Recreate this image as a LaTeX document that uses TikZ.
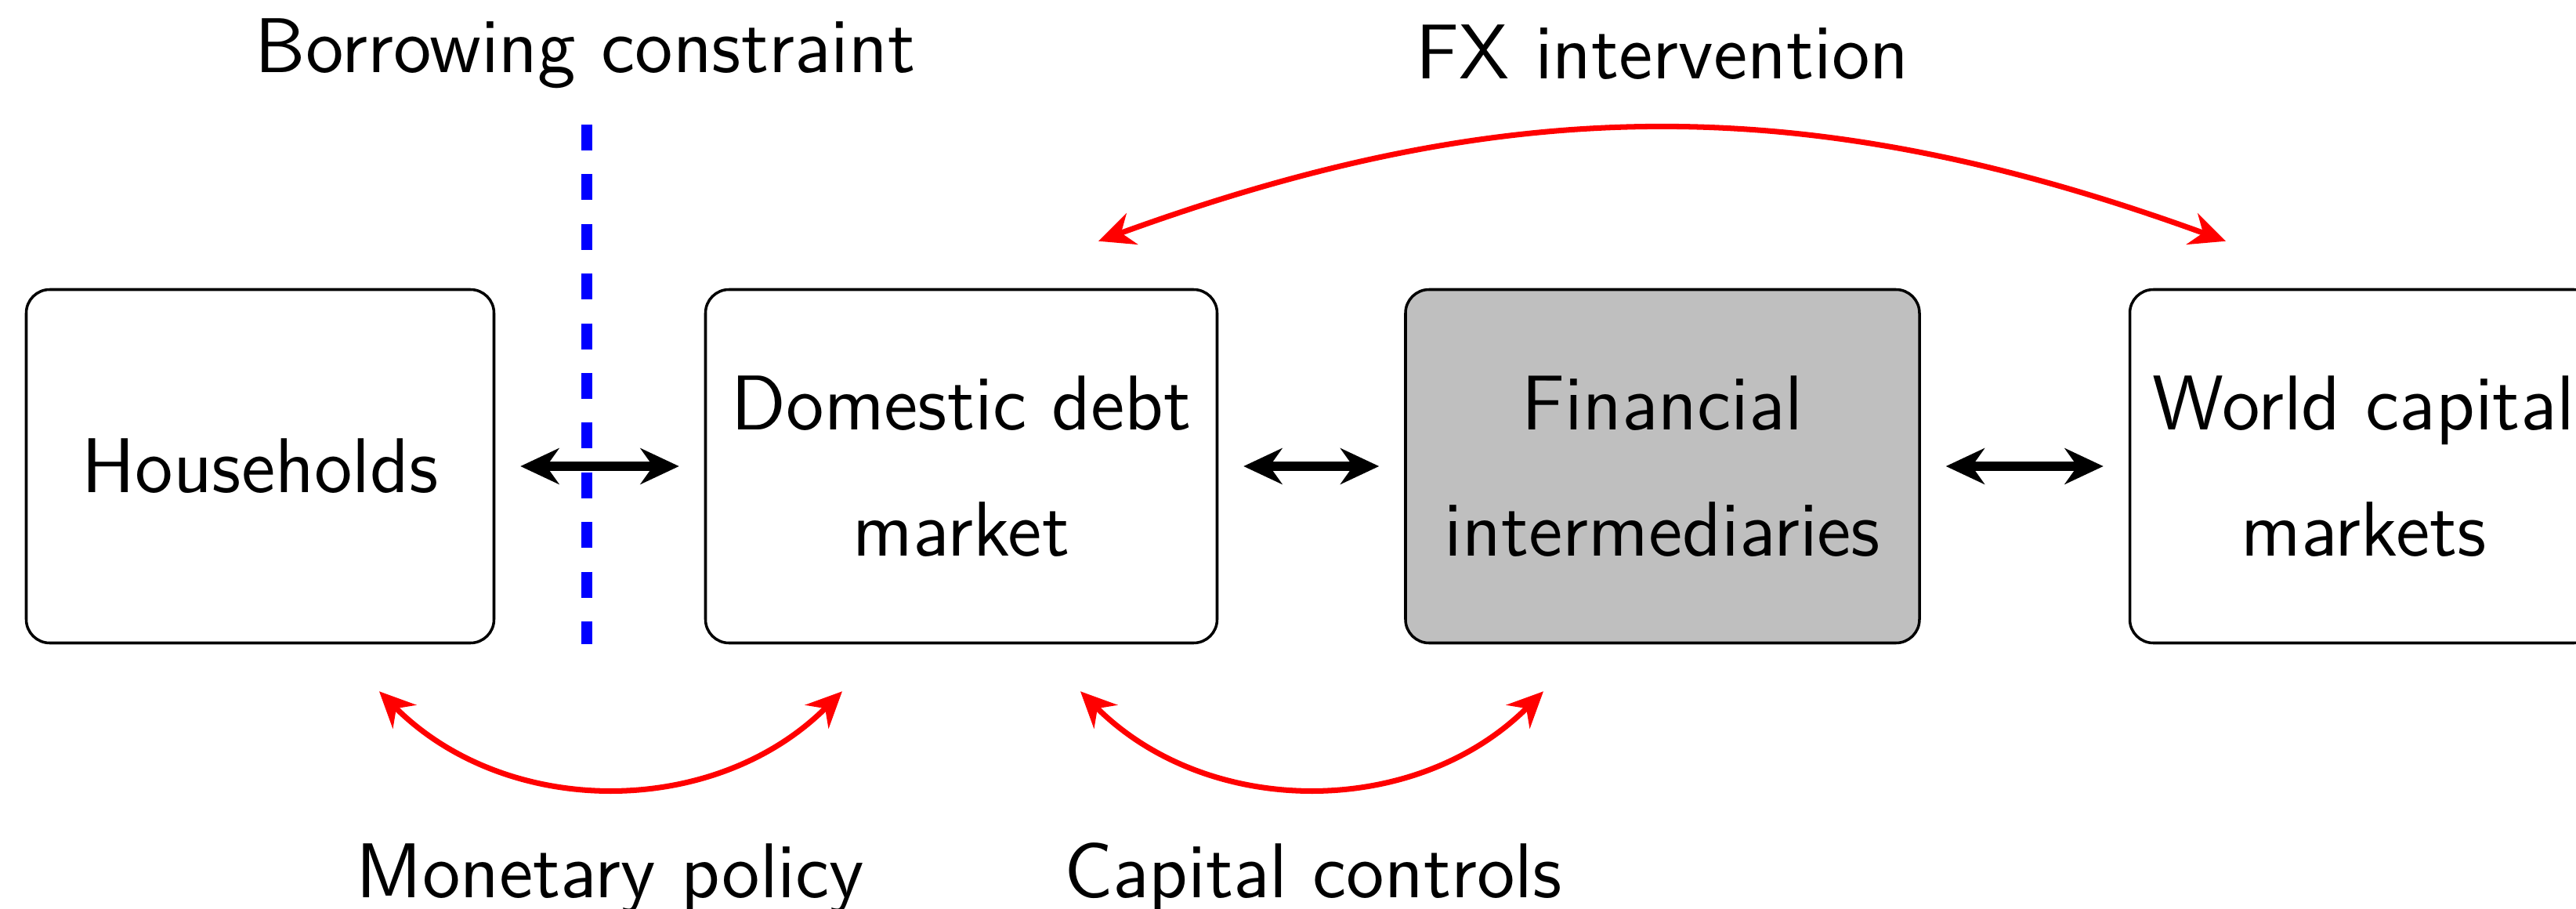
\documentclass[tikz,border=0pt]{standalone}
\usetikzlibrary{arrows.meta, positioning}

\begin{document}
\begin{tikzpicture}[
    font=\fontsize{14.1}{22.9}\selectfont\sffamily,
    box/.style={draw, rounded corners=0.15cm, line width=0.5pt, align=center,
        minimum width=2.985cm, minimum height=2.255cm, inner xsep=0.1cm},
    hub/.style={box, fill=gray!50},
    lbl/.style={inner sep=0pt, anchor=base},
    link/.style={draw, line width=1.6pt, shorten <=0.16cm, shorten >=0.16cm,
        {Stealth[length=7pt,width=6.5pt]}-{Stealth[length=7pt,width=6.5pt]}},
    policy/.style={draw, red, line width=1pt,
        {Stealth[length=6.5pt,width=6pt]}-{Stealth[length=6.5pt,width=6pt]}},
    constraint/.style={draw, blue, line width=2pt, dash pattern=on 0.165cm off 0.152cm}
]
\useasboundingbox (0,0) rectangle (16.44,5.795);

% sectors
\node[box] (H) at (1.66, 2.82) {Households};
\node[box, minimum width=3.265cm] (D) at (6.135, 2.82) {Domestic debt\\market};
\node[hub, minimum width=3.28cm] (F) at (10.61, 2.82) {Financial\\intermediaries};
\node[box] (W) at (15.085, 2.82) {World capital\\markets};

% policy labels
\node[lbl] (bc) at (3.735, 5.335) {Borrowing constraint};
\node[lbl] (fx) at (10.61, 5.295) {FX intervention};
\node[lbl] (mp) at (3.895, 0.07) {Monetary policy};
\node[lbl] (cc) at (8.38, 0.07) {Capital controls};

% constraint line
\coordinate (cut) at (3.745, 5.0);
\draw[constraint] (cut) -- (cut |- H.south);

% flows between sectors
\draw[link] (H) -- (D);
\draw[link] (D) -- (F);
\draw[link] (F) -- (W);

% policy arcs
\coordinate (mpL) at ([xshift=0.76cm, yshift=-0.3cm]H.south);
\coordinate (mpR) at ([xshift=-0.76cm, yshift=-0.3cm]D.south);
\coordinate (ccL) at ([xshift=0.76cm, yshift=-0.3cm]D.south);
\coordinate (ccR) at ([xshift=-0.76cm, yshift=-0.3cm]F.south);
\coordinate (fxL) at ([xshift=0.875cm, yshift=0.3cm]D.north);
\coordinate (fxR) at ([xshift=-0.88cm, yshift=0.3cm]W.north);
\draw[policy] (mpL) to[bend right=45] (mpR);
\draw[policy] (ccL) to[bend right=45] (ccR);
\draw[policy] (fxL) to[bend left=20] (fxR);
\end{tikzpicture}
\end{document}
